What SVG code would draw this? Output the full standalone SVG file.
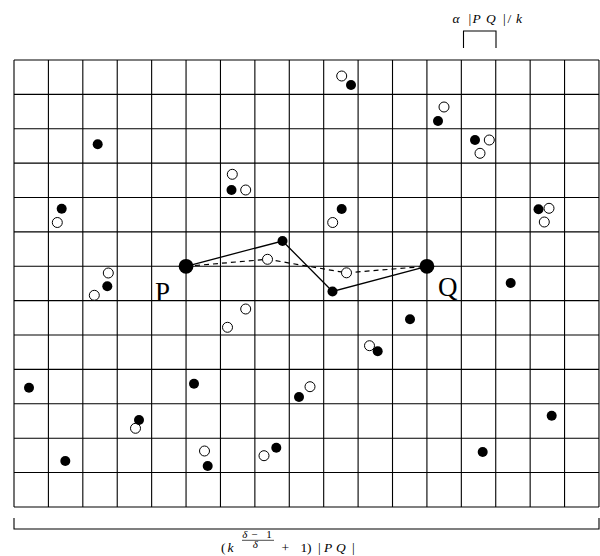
<svg xmlns="http://www.w3.org/2000/svg" width="600" height="556" viewBox="0 0 600 556">
<style>
.grid{fill:none;stroke:#000;stroke-width:1.1}
.f{fill:#000}
.o{fill:#fff;stroke:#000;stroke-width:1}
.solid{fill:none;stroke:#000;stroke-width:1.3}
.dash{fill:none;stroke:#000;stroke-width:1.2;stroke-dasharray:5 4}
.lbl{font-family:"Liberation Serif",serif;font-size:13.5px;fill:#000}
.sm{font-size:11px}
.big{font-family:"Liberation Serif",serif;font-size:27px;fill:#000}
.it{font-style:italic}
</style>
<rect width="600" height="556" fill="#fff"/>
<g id="grid">
<path class="grid" d="M14 60V506.94M48.41 60V506.94M82.82 60V506.94M117.23 60V506.94M151.64 60V506.94M186.05 60V506.94M220.46 60V506.94M254.87 60V506.94M289.28 60V506.94M323.69 60V506.94M358.1 60V506.94M392.51 60V506.94M426.92 60V506.94M461.33 60V506.94M495.74 60V506.94M530.15 60V506.94M564.56 60V506.94M598.97 60V506.94"/>
<path class="grid" d="M14 60H598.97M14 94.38H598.97M14 128.76H598.97M14 163.14H598.97M14 197.52H598.97M14 231.9H598.97M14 266.28H598.97M14 300.66H598.97M14 335.04H598.97M14 369.42H598.97M14 403.8H598.97M14 438.18H598.97M14 472.56H598.97M14 506.94H598.97"/>
</g>
<g id="cell-bracket">
<path class="grid" d="M463.5 48V31H496V48"/>
<text class="lbl" y="22.5"><tspan class="it" x="452.5">α</tspan><tspan x="468.5">|</tspan><tspan class="it" x="472.5">P</tspan><tspan class="it" x="486">Q</tspan><tspan x="503">|</tspan><tspan x="507.5">/</tspan><tspan class="it" x="516">k</tspan></text>
</g>
<g id="width-bracket">
<path class="grid" d="M14 518V529H599V518"/>
<text class="lbl" y="551.5"><tspan x="221">(</tspan><tspan class="it" x="227.5">k</tspan><tspan x="281.5">+</tspan><tspan x="300.5">1</tspan><tspan x="307">)</tspan><tspan x="318">|</tspan><tspan class="it" x="324">P</tspan><tspan class="it" x="336">Q</tspan><tspan x="352">|</tspan></text>
<text class="lbl sm" y="537.8"><tspan class="it" x="242.3">δ</tspan><tspan x="251.3">−</tspan><tspan x="266.3">1</tspan></text>
<path d="M242 540.3H274" stroke="#000" stroke-width="0.7"/>
<text class="lbl sm it" x="252.8" y="548.3">δ</text>
</g>
<g id="connectors">
<polyline class="solid" points="186.05,266.28 282.5,241 332.5,291.5 426.92,266.28"/>
<polyline class="dash" points="186.05,266.28 267.5,259.3 346.5,272.8 426.92,266.28"/>
</g>
<g id="P"><circle class="f" cx="186.05" cy="266.28" r="7.4"/><text class="big" x="155" y="300.5">P</text></g>
<g id="Q"><circle class="f" cx="426.92" cy="266.28" r="7.4"/><text class="big" x="438" y="296">Q</text></g>
<g id="path-nodes">
<circle class="f" cx="282.5" cy="241" r="5"/>
<circle class="f" cx="332.5" cy="291.5" r="5"/>
<circle class="o" cx="267.5" cy="259.3" r="5"/>
<circle class="o" cx="346.5" cy="272.8" r="5"/>
</g>
<g id="points">
<circle class="o" cx="341.7" cy="76" r="5"/><circle class="f" cx="351" cy="85" r="5"/>
<circle class="o" cx="444" cy="107" r="5"/><circle class="f" cx="438" cy="121" r="5"/>
<circle class="f" cx="97.7" cy="144.3" r="5"/>
<circle class="f" cx="475" cy="140" r="5"/><circle class="o" cx="489.3" cy="140" r="5"/><circle class="o" cx="480" cy="153.3" r="5"/>
<circle class="o" cx="232.3" cy="174.3" r="5"/><circle class="f" cx="231.5" cy="190" r="5"/><circle class="o" cx="245.7" cy="190" r="5"/>
<circle class="f" cx="61.7" cy="208.7" r="5"/><circle class="o" cx="57.3" cy="222.5" r="5"/>
<circle class="f" cx="341.7" cy="209" r="5"/><circle class="o" cx="332.7" cy="222.5" r="5"/>
<circle class="f" cx="538.5" cy="209.3" r="5"/><circle class="o" cx="549" cy="208.3" r="5"/><circle class="o" cx="544.3" cy="222" r="5"/>
<circle class="o" cx="108.3" cy="273" r="5"/><circle class="f" cx="107.3" cy="286.3" r="5"/><circle class="o" cx="94.3" cy="295.3" r="5"/>
<circle class="o" cx="245.7" cy="309" r="5"/><circle class="o" cx="227.5" cy="327.3" r="5"/>
<circle class="f" cx="510.7" cy="283" r="5"/>
<circle class="f" cx="410" cy="319.3" r="5"/>
<circle class="o" cx="369.5" cy="345.7" r="5"/><circle class="f" cx="377.7" cy="351.3" r="5"/>
<circle class="f" cx="29" cy="387.7" r="5"/>
<circle class="f" cx="194" cy="383.7" r="5"/>
<circle class="o" cx="310" cy="386.7" r="5"/><circle class="f" cx="299" cy="397" r="5"/>
<circle class="o" cx="135.5" cy="428.3" r="5"/><circle class="f" cx="139" cy="420" r="5"/>
<circle class="f" cx="551.7" cy="415.7" r="5"/>
<circle class="f" cx="65.3" cy="461" r="5"/>
<circle class="o" cx="204.5" cy="451" r="5"/><circle class="f" cx="207.7" cy="466" r="5"/>
<circle class="o" cx="264" cy="455.7" r="5"/><circle class="f" cx="276.3" cy="447.7" r="5"/>
<circle class="f" cx="482.7" cy="452" r="5"/>
</g>
</svg>
